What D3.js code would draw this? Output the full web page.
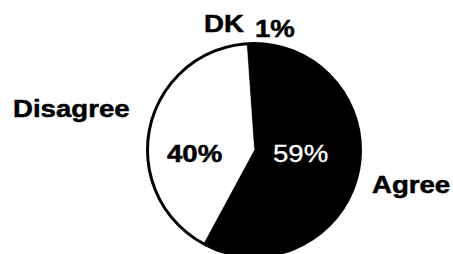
<!DOCTYPE html>
<html>
<head>
<meta charset="utf-8">
<script src="https://cdn.jsdelivr.net/npm/d3@7"></script>
<style>
html,body{margin:0;padding:0;background:#fff;}
svg{display:block;}
text{font-family:"Liberation Sans",Arial,Helvetica,sans-serif;}
</style>
</head>
<body>
<svg id="chart" width="453" height="254"></svg>
<script>
const categories = ["Agree", "Disagree", "DK"];
const values = [59, 40, 1];
const percentLabels = ["59%", "40%", "1%"];

const W = 453, H = 254;
const cx = 254, cy = 150, R = 106.5;
const startDeg = -4;
const sx = 1.15;

const svg = d3.select("#chart");
const g = svg.append("g").attr("transform", `translate(${cx},${cy})`);

const pie = d3.pie().sort(null).value(d => d.value)
  .startAngle(startDeg * Math.PI / 180)
  .endAngle((startDeg + 360) * Math.PI / 180);
const data = categories.map((c, i) => ({cat: c, value: values[i], pct: percentLabels[i]}));
const arcs = pie(data);
const arc = d3.arc().innerRadius(0).outerRadius(R);
const fills = {"Agree": "#000", "Disagree": "#fff", "DK": "#fff"};

g.selectAll("path.slice").data(arcs).join("path")
  .attr("class", "slice")
  .attr("d", arc)
  .attr("fill", d => fills[d.data.cat])
  .attr("stroke", d => fills[d.data.cat])
  .attr("stroke-width", 0.5);

g.append("circle").attr("r", R).attr("fill", "none").attr("stroke", "#000").attr("stroke-width", 3);

// label layout (text positions, left/baseline)
const catPos = {"Agree": [372, 193], "Disagree": [13, 117], "DK": [204, 32]};
const pctPos = {"Agree": [273, 162], "Disagree": [167, 162], "DK": [255, 37]};
const pctStyle = {"Agree": {fill: "#fff", weight: "normal"}, "Disagree": {fill: "#000", weight: "bold"}, "DK": {fill: "#000", weight: "bold"}};

svg.selectAll("text.cat").data(arcs).join("text")
  .attr("class", "cat")
  .attr("transform", d => `translate(${catPos[d.data.cat][0]},${catPos[d.data.cat][1]}) scale(${sx},1)`)
  .attr("font-size", 24).attr("font-weight", "bold").attr("fill", "#000")
  .attr("stroke", "#000").attr("stroke-width", 0.5)
  .text(d => d.data.cat);

svg.selectAll("text.pct").data(arcs).join("text")
  .attr("class", "pct")
  .attr("transform", d => `translate(${pctPos[d.data.cat][0]},${pctPos[d.data.cat][1]}) scale(${sx},1)`)
  .attr("font-size", 24)
  .attr("font-weight", d => pctStyle[d.data.cat].weight)
  .attr("fill", d => pctStyle[d.data.cat].fill)
  .attr("stroke", d => pctStyle[d.data.cat].fill)
  .attr("stroke-width", d => pctStyle[d.data.cat].weight === "bold" ? 0.5 : 0.3)
  .text(d => d.data.pct);
</script>
</body>
</html>
